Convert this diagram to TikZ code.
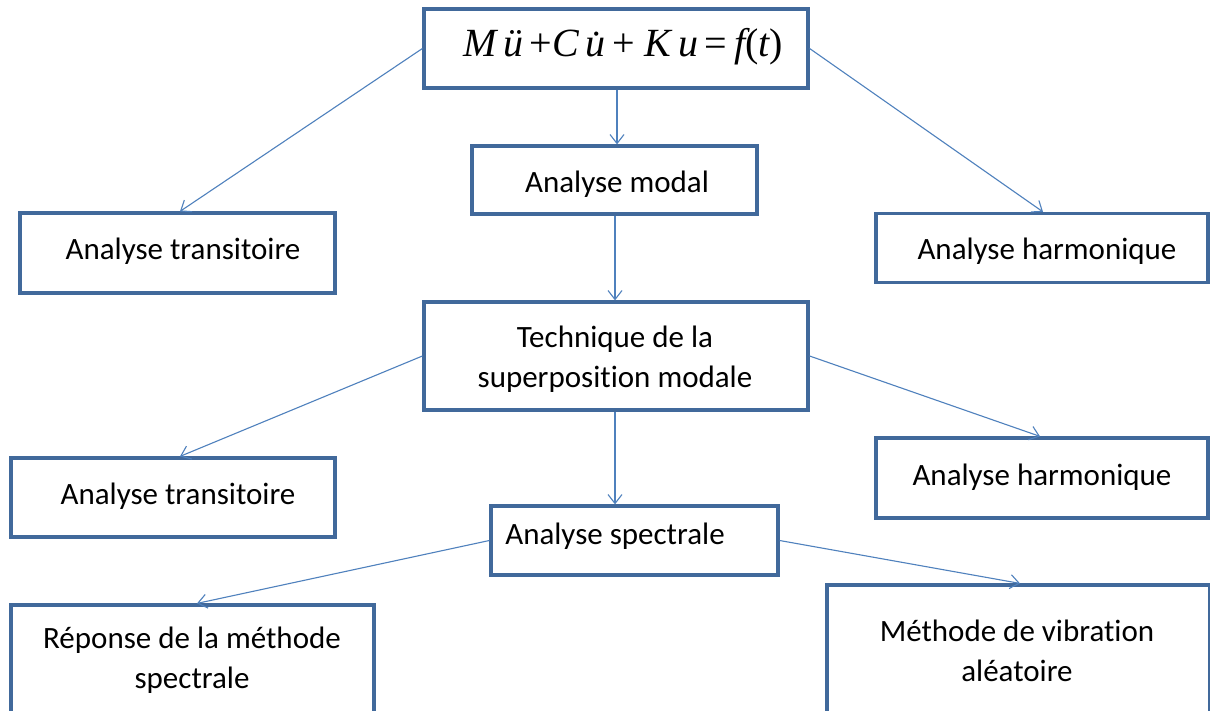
\documentclass[tikz,border=0pt]{standalone}
\usepackage{fontspec}
\setmainfont{Carlito}[Ligatures=NoCommon]
\newfontfamily\eqfont{Liberation Serif}
\usetikzlibrary{arrows.meta,calc}
\definecolor{boxc}{RGB}{65,105,155}
\definecolor{linec}{RGB}{79,129,189}
\begin{document}
\begin{tikzpicture}[x=1pt,y=-1pt,
  box/.style={draw=boxc,line width=3.2pt,fill=white,inner sep=0pt,align=center},
  lbl/.style={font=\fontsize{31}{40}\selectfont,align=center,inner sep=0pt},
  conn/.style={draw=linec,line width=1.1pt,-{Straight Barb[length=9pt,width=14pt,line width=1.1pt]}}]
\useasboundingbox (0,0) rectangle (1210,711);
\fill[white] (0,0) rectangle (1210,711);
% boxes
\node[box,minimum width=384pt,minimum height=79pt] (eq) at (616,48.5) {};
\node[inner sep=0pt] (eqt) at (623,47)
  {\eqfont\fontsize{40}{44}\selectfont\itshape M\,ü\,\upshape+\itshape C\,\.{u}\,\upshape + \itshape K\,u\,\upshape=\,\itshape f\upshape(\itshape t\upshape)};
\node[box,minimum width=285pt,minimum height=68pt] (modal) at (614.5,180) {};
\node[lbl] (modalt) at (617,184) {Analyse modal};
\node[box,minimum width=315pt,minimum height=80pt] (tr1) at (177.5,253) {};
\node[lbl] (tr1t) at (183,251) {Analyse transitoire};
\node[box,minimum width=332pt,minimum height=69pt] (ha1) at (1042,248) {};
\node[lbl] (ha1t) at (1047,251) {Analyse harmonique};
\node[box,minimum width=384pt,minimum height=108pt] (tech) at (616,356) {};
\node[lbl] (techt) at (615,359) {Technique de la\\superposition modale};
\node[box,minimum width=324pt,minimum height=79pt] (tr2) at (173,497.5) {};
\node[lbl] (tr2t) at (178,496) {Analyse transitoire};
\node[box,minimum width=332pt,minimum height=80pt] (ha2) at (1042,478) {};
\node[lbl] (ha2t) at (1042,477) {Analyse harmonique};
\node[box,minimum width=287pt,minimum height=69pt] (spec) at (634.5,540.5) {};
\node[lbl] (spect) at (615,536) {Analyse spectrale};
\node[box,minimum width=363pt,minimum height=130pt] (rep) at (192.5,670) {};
\node[lbl] (rept) at (192,660) {Réponse de la méthode\\spectrale};
\node[box,minimum width=383pt,minimum height=140pt] (vib) at (1018.5,655) {};
\node[lbl] (vibt) at (1017,651) {Méthode de vibration\\aléatoire};
% connectors
\draw[conn] (eq.west) -- ($(tr1.north)+(2.5,0)$);
\draw[conn] ($(eq.south)+(1,0)$) -- ($(modal.north)+(2.5,0)$);
\draw[conn] (eq.east) -- ($(ha1.north)+(1,0)$);
\draw[conn] ($(modal.south)+(0.5,0)$) -- ($(tech.north)+(-1,0)$);
\draw[conn] (tech.west) -- ($(tr2.north)+(7,0)$);
\draw[conn] (tech.east) -- ($(ha2.north)+(-2,0)$);
\draw[conn] ($(tech.south)+(-1,0)$) -- ($(spec.north)+(-19.5,0)$);
\draw[conn] (spec.west) -- ($(rep.north)+(4.5,0)$);
\draw[conn] (spec.east) -- ($(vib.north)+(1.5,0)$);
\end{tikzpicture}
\end{document}
